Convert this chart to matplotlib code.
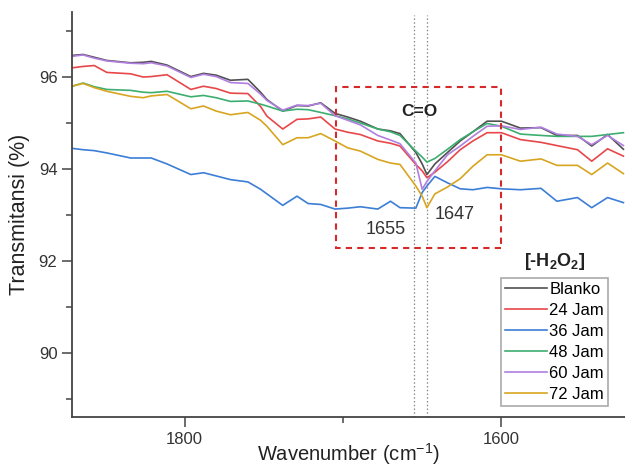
#!/usr/bin/env python3
# -*- coding: utf-8 -*-

import numpy as np
import matplotlib
matplotlib.use( "Agg" )
import matplotlib.pyplot as plt
from matplotlib.patches import Rectangle
from matplotlib.ticker import MultipleLocator

# 波数 (cm-1)
wavenumber = [ 1871, 1864, 1857, 1849, 1834, 1826, 1821, 1811, 1796, 1788,
               1780, 1771, 1760, 1752, 1748, 1738, 1729, 1722, 1714, 1705,
               1697, 1689, 1678, 1670, 1664, 1654, 1650, 1647, 1642, 1634,
               1626, 1618, 1609, 1600, 1588, 1575, 1565, 1552, 1543, 1533, 1523 ]

blanko = [ 96.46, 96.48, 96.42, 96.35, 96.30, 96.31, 96.33, 96.25, 96.00, 96.07,
           96.03, 95.92, 95.94, 95.66, 95.50, 95.25, 95.37, 95.36, 95.43, 95.20,
           95.12, 95.03, 94.86, 94.82, 94.76, 94.35, 94.10, 93.87, 94.10, 94.35,
           94.60, 94.80, 95.03, 95.03, 94.88, 94.89, 94.72, 94.72, 94.49, 94.74, 94.42 ]

jam24 = [ 96.19, 96.22, 96.24, 96.09, 96.06, 95.99, 96.00, 96.04, 95.72, 95.79,
          95.74, 95.64, 95.63, 95.35, 95.14, 94.86, 95.07, 95.08, 95.12, 94.86,
          94.79, 94.74, 94.60, 94.55, 94.49, 94.09, 93.95, 93.80, 93.92, 94.15,
          94.41, 94.60, 94.78, 94.78, 94.63, 94.57, 94.50, 94.41, 94.16, 94.43, 94.27 ]

jam36 = [ 94.44, 94.41, 94.39, 94.34, 94.23, 94.23, 94.23, 94.10, 93.87, 93.91,
          93.84, 93.76, 93.71, 93.55, 93.45, 93.20, 93.40, 93.24, 93.22, 93.12,
          93.14, 93.17, 93.12, 93.29, 93.15, 93.14, 93.48, 93.62, 93.83, 93.69,
          93.56, 93.54, 93.59, 93.56, 93.54, 93.57, 93.29, 93.37, 93.15, 93.37, 93.26 ]

jam48 = [ 95.79, 95.86, 95.78, 95.72, 95.70, 95.66, 95.65, 95.68, 95.56, 95.59,
          95.54, 95.46, 95.47, 95.40, 95.36, 95.25, 95.29, 95.28, 95.22, 95.15,
          95.08, 94.99, 94.86, 94.80, 94.72, 94.38, 94.25, 94.14, 94.22, 94.42,
          94.63, 94.80, 94.98, 94.92, 94.75, 94.72, 94.70, 94.70, 94.70, 94.74, 94.78 ]

jam60 = [ 96.44, 96.47, 96.40, 96.34, 96.29, 96.28, 96.30, 96.23, 95.98, 96.05,
          96.00, 95.87, 95.85, 95.62, 95.48, 95.27, 95.38, 95.37, 95.42, 95.15,
          95.05, 94.95, 94.72, 94.62, 94.54, 94.12, 93.55, 93.72, 93.95, 94.30,
          94.49, 94.70, 94.92, 94.93, 94.85, 94.90, 94.75, 94.70, 94.52, 94.72, 94.50 ]

jam72 = [ 95.79, 95.85, 95.76, 95.68, 95.57, 95.54, 95.58, 95.61, 95.30, 95.36,
          95.25, 95.17, 95.22, 95.05, 94.92, 94.52, 94.67, 94.67, 94.76, 94.60,
          94.45, 94.38, 94.20, 94.12, 94.09, 93.62, 93.40, 93.15, 93.45, 93.60,
          93.78, 94.05, 94.30, 94.30, 94.16, 94.21, 94.07, 94.07, 93.87, 94.12, 93.89 ]

labels = [ "Blanko", "24 Jam", "36 Jam", "48 Jam", "60 Jam", "72 Jam" ]
colors = [ "#505050", "#e8474a", "#3c7ed6", "#3cae6f", "#b07fe0", "#d8a520" ]

# 注目ピーク
peaks = [ 1655, 1647 ]


def out_graph( fpath="out.png" ):
    
    plt.rcParams['font.family'] = [ 'Liberation Sans', 'DejaVu Sans' ]
    plt.rcParams['mathtext.fontset'] = 'custom'
    plt.rcParams['mathtext.rm'] = 'Liberation Sans'
    plt.rcParams['mathtext.bf'] = 'Liberation Sans:bold'
    
    fig = plt.figure( figsize=(6.25, 4.68), dpi=100 )
    ax = fig.add_axes( [0.1152, 0.109, 0.8848, 0.865] )
    
    series = [ blanko, jam24, jam36, jam48, jam60, jam72 ]
    for yy, lab, col in zip( series, labels, colors ):
        ax.plot( wavenumber, yy, color=col, lw=1.2, label=lab )
    
    # C=O 領域
    ax.add_patch( Rectangle( (1600, 92.28), 104.7, 3.5, fill=False,
                             ec="#d42a2a", lw=1.5, ls=(0, (3, 2.5)), zorder=5 ) )
    for p in peaks:
        ax.axvline( p, ymax=0.993, color="#888888", lw=0.9, ls=(0, (1.2, 1.8)), zorder=1 )
    
    ax.text( 1651.7, 95.24, "C=O", fontsize=12.5, fontweight="bold", color="#222222",
             ha="center", va="center" )
    ax.text( 1673.2, 92.68, "1655", fontsize=13, color="#333333", ha="center", va="center" )
    ax.text( 1629.7, 93.00, "1647", fontsize=13, color="#333333", ha="center", va="center" )
    
    ax.set_xlim( 1871, 1522 )
    ax.set_ylim( 88.6, 97.4 )
    ax.xaxis.set_major_locator( MultipleLocator( 200 ) )
    ax.xaxis.set_minor_locator( MultipleLocator( 100 ) )
    ax.yaxis.set_major_locator( MultipleLocator( 2 ) )
    ax.yaxis.set_minor_locator( MultipleLocator( 1 ) )
    
    for s in [ "top", "right" ]:
        ax.spines[s].set_visible( False )
    for s in [ "left", "bottom" ]:
        ax.spines[s].set_color( "#444444" )
        ax.spines[s].set_linewidth( 1.3 )
    
    ax.tick_params( which="major", direction="out", length=7, width=1.1, color="#444444",
                    labelsize=12, labelcolor="#333333" )
    ax.tick_params( which="minor", direction="out", length=4, width=1.1, color="#444444" )
    
    ax.set_xlabel( "Wavenumber (cm$^{-1}$)", fontsize=14.5, color="#222222", labelpad=-4 )
    ax.set_ylabel( "Transmitansi (%)", fontsize=15.5, color="#222222", labelpad=6 )
    
    leg = ax.legend( loc="upper left", bbox_to_anchor=(0.776, 0.343), borderaxespad=0,
                     fontsize=12, handlelength=2.5, handletextpad=0.15, labelspacing=0.36,
                     borderpad=0.25, fancybox=False, framealpha=1, edgecolor="#aaaaaa" )
    leg.get_frame().set_linewidth( 1.2 )
    
    ax.text( 0.873, 0.383, r"[-H$_\mathbf{2}$O$_\mathbf{2}$]", transform=ax.transAxes,
             fontsize=13, fontweight="bold", color="#222222", ha="center", va="center" )
    
    fig.savefig( fpath, dpi=100 )


def main():
    
    out_graph( fpath="out.png" )


if __name__ == "__main__":
    
    main()
